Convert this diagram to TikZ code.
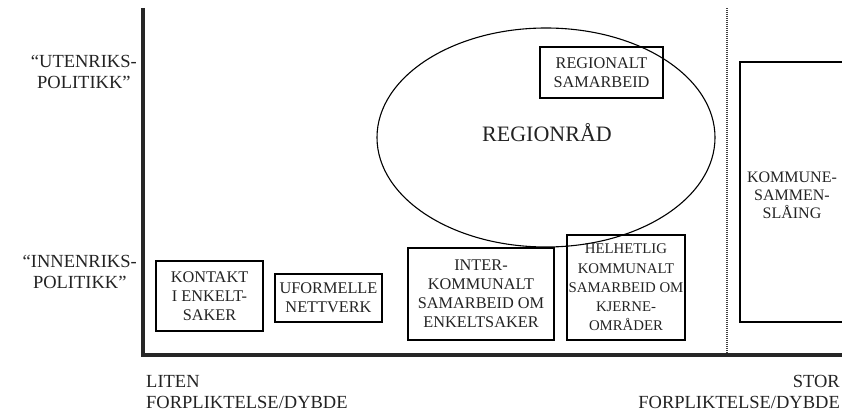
\documentclass[tikz,border=0pt]{standalone}
\usepackage{fontspec}
\setmainfont{Liberation Serif}
\usetikzlibrary{shapes.geometric}
\definecolor{ink}{RGB}{35,35,35}
\tikzset{
  boxnode/.style={draw=black, line width=1.6pt, align=center, inner sep=0pt, text=ink,
    font=\fontsize{16.3}{19}\selectfont},
  axislabel/.style={align=center, inner sep=0pt, text=ink, font=\fontsize{18.5}{21}\selectfont},
  axisline/.style={line width=3.5pt, black!85},
}
\begin{document}
\begin{tikzpicture}[x=1pt,y=-1pt]
\useasboundingbox (0,0) rectangle (842,414);
% axes
\coordinate (top) at (143,8);
\coordinate (origin) at (143,355);
\coordinate (xend) at (842,355);
\coordinate (dtop) at (727,8);
\coordinate (dbot) at (727,355);
\draw[line width=1.6pt, black!75, dash pattern=on 1pt off 1pt] (dtop) -- (dbot);
\draw[axisline, line join=miter] (top) -- (origin) -- (xend);
% y labels
\node[axislabel, anchor=east] (ut) at (137,72) {\textquotedblleft UTENRIKS-\\POLITIKK\textquotedblright};
\node[axislabel, anchor=east] (inn) at (137,272) {\textquotedblleft INNENRIKS-\\POLITIKK\textquotedblright};
% x labels
\node[axislabel, align=left, anchor=west] (liten) at (146,392) {LITEN\\FORPLIKTELSE/DYBDE};
\node[axislabel, align=right, anchor=east] (stor) at (840,392) {STOR\\FORPLIKTELSE/DYBDE};
% boxes
\node[boxnode, minimum width=107pt, minimum height=70pt] (kontakt) at (209.5,296) {KONTAKT\\I ENKELT-\\SAKER};
\node[boxnode, minimum width=107pt, minimum height=48pt] (uform) at (328.5,298) {UFORMELLE\\NETTVERK};
\node[boxnode, minimum width=146pt, minimum height=92pt] (inter) at (481,294) {INTER-\\KOMMUNALT\\SAMARBEID OM\\ENKELTSAKER};
\node[boxnode, minimum width=118pt, minimum height=105pt, font=\fontsize{14.8}{19.3}\selectfont] (helhet) at (626,287.5) {HELHETLIG\\KOMMUNALT\\SAMARBEID OM\\KJERNE-\\OMRÅDER};
\node[boxnode, minimum width=123pt, minimum height=51pt] (regsam) at (601.5,72.5) {REGIONALT\\SAMARBEID};
% ellipse
\node[draw=black, line width=1.1pt, ellipse, minimum width=338pt, minimum height=219pt, inner sep=0pt] (ell) at (546,137.5) {};
\node[text=ink, font=\fontsize{22}{26}\selectfont, inner sep=0pt] (regrad) at (547,133) {REGIONRÅD};
% kommunesammenslaing
\coordinate (ks1) at (850,62);
\coordinate (ks2) at (740,62);
\coordinate (ks3) at (740,322);
\coordinate (ks4) at (850,322);
\draw[line width=1.6pt] (ks1) -- (ks2) -- (ks3) -- (ks4);
\node[align=center, inner sep=0pt, text=ink, font=\fontsize{16}{18}\selectfont] (ks) at (792,195) {KOMMUNE-\\SAMMEN-\\SLÅING};
\end{tikzpicture}
\end{document}
